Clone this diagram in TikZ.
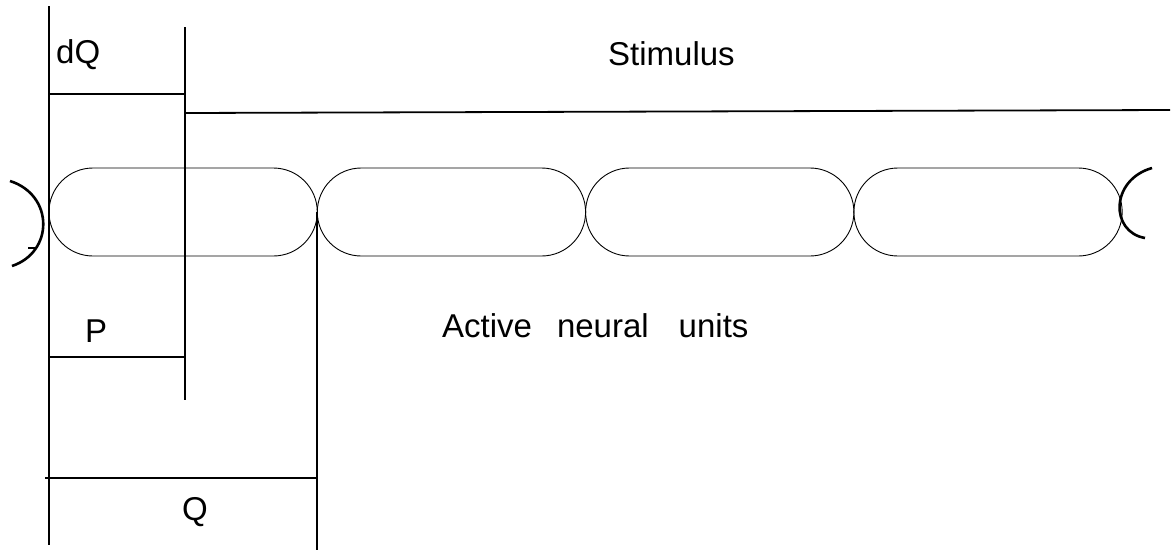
\documentclass[tikz,border=0pt]{standalone}
\usepackage{fontspec}
\setmainfont{Liberation Sans}
\usetikzlibrary{shapes.misc,calc}
\tikzstyle{unit}=[rounded rectangle,draw,line width=0.9pt,minimum width=268.3pt,minimum height=88pt,inner sep=0pt,outer sep=0pt]
\tikzstyle{dimline}=[draw,line width=1.8pt]
\tikzstyle{endmark}=[draw,line width=2.6pt]
\tikzstyle{lbl}=[font=\fontsize{33}{40}\selectfont,anchor=base west,inner sep=0pt]

\begin{document}
\begin{tikzpicture}[x=1pt,y=-1pt]
    \useasboundingbox (0,0) rectangle (1173,555);

    % chain of neural units
    \foreach \i in {1,...,4}
        \node[unit] (u\i) at ({183.15+268.3*(\i-1)},212) {};

    % ends of the chain
    \draw[endmark] (10,181) .. controls (54,195) and (54,252) .. (12,266);
    \draw[line width=1.2pt] (28,248) -- (37,248);
    \draw[endmark] (1152,168) .. controls (1110,180) and (1110,232) .. (1145,238);

    \coordinate (a1) at (49,6);   \coordinate (a2) at (49,545);
    \coordinate (b1) at (185,27); \coordinate (b2) at (185,400);
    \coordinate (c2) at (317,550);
    \coordinate (s1) at (185,113); \coordinate (s2) at (1170,110);
    \coordinate (dq) at (49,94);
    \coordinate (p) at (49,357);
    \coordinate (q) at (45,478);

    \path[dimline] (a1) -- (a2);
    \path[dimline] (b1) -- (b2);
    \path[dimline] (u1.east) -- (u1.east |- c2);
    \path[dimline] (dq) -- (dq -| b1);
    \path[dimline] (s1) -- (s2);
    \path[dimline] (p) -- (p -| b1);
    \path[dimline] (q) -- (q -| u1.east);

    % labels
    \node[lbl] (dQlab) at (56,63) {dQ};
    \node[lbl] (stim) at (608,65) {Stimulus};
    \node[lbl] (plab) at (85,342) {P};
    \node[lbl] (qlab) at (182,520) {Q};
    \node[lbl] (act) at (442,337) {Active\hspace{25pt}neural\hspace{30pt}units};

\end{tikzpicture}
\end{document}
